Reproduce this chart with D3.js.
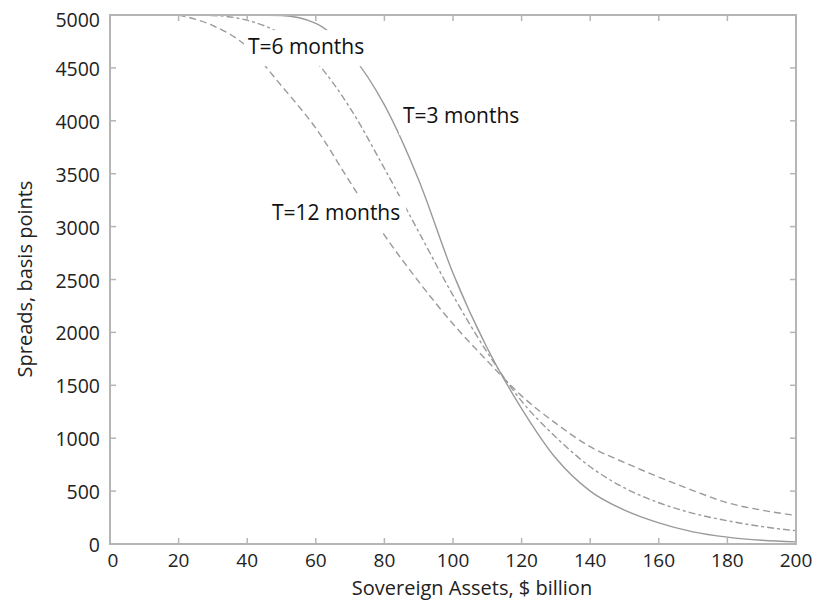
<!DOCTYPE html>
<html lang="en">
<head>
  <meta charset="UTF-8">
  <title>Spreads vs Sovereign Assets</title>
  <script src="https://d3js.org/d3.v7.min.js"></script>
  <style>
    body { margin: 0; background: #fff; }
    svg { display: block; font-family: "Open Sans", Lato, sans-serif; }
    .frame { fill: none; stroke: #b5b5b5; stroke-width: 2px; }
    .tick-mark { stroke: #b5b5b5; stroke-width: 1.5px; }
    .tick-label { font-size: 19.5px; fill: #222; }
    .x-tick { font-size: 19px; }
    .axis-title { font-size: 20px; fill: #222; }
    .curve { fill: none; stroke: #9a9a9a; stroke-width: 1.4px; }
    .curve-label { font-size: 21px; fill: #111; }
  </style>
</head>
<body>
  <svg id="chart" width="814" height="600"></svg>

  <script>
    // x values ($ billion)
    const assets = [20, 30, 40, 50, 60, 70, 80, 90, 100, 110, 120, 130, 140, 150, 160, 170, 180, 190, 200];
    // spreads, basis points
    const spreadT3 = [5000, 5000, 5000, 4995, 4920, 4640, 4150, 3440, 2560, 1850, 1280, 810, 500, 320, 200, 115, 65, 35, 20];
    const spreadT6 = [5000, 4995, 4950, 4820, 4560, 4120, 3550, 2950, 2350, 1810, 1350, 1010, 730, 530, 390, 290, 220, 165, 125];
    const spreadT12 = [5000, 4900, 4700, 4330, 3930, 3420, 2920, 2480, 2080, 1730, 1400, 1140, 920, 770, 633, 505, 390, 320, 270];

    const xTicks = [0, 20, 40, 60, 80, 100, 120, 140, 160, 180, 200];
    const yTicks = [0, 500, 1000, 1500, 2000, 2500, 3000, 3500, 4000, 4500, 5000];

    const series = [
      { name: 'T=3 months', values: spreadT3, dash: null },
      { name: 'T=6 months', values: spreadT6, dash: '7,3,3,3' },
      { name: 'T=12 months', values: spreadT12, dash: '7,4' }
    ];

    // label anchors in data units (left edge, baseline)
    const labels = [
      { text: 'T=6 months', x: 40.2, y: 4630 },
      { text: 'T=3 months', x: 85.4, y: 3980 },
      { text: 'T=12 months', x: 47.2, y: 3060 }
    ];

    const m = { left: 110, right: 796, top: 15, bottom: 544 };
    const svg = d3.select('#chart');

    const x = d3.scaleLinear().domain([0, 200]).range([m.left, m.right]);
    const y = d3.scaleLinear().domain([0, 5000]).range([m.bottom, m.top]);

    // curves
    const line = d3.line()
      .x((d, i) => x(assets[i]))
      .y(d => y(d))
      .curve(d3.curveMonotoneX);

    series.forEach(s => {
      svg.append('path')
        .attr('class', 'curve')
        .attr('d', line(s.values))
        .attr('stroke-dasharray', s.dash);
    });

    // frame
    svg.append('rect')
      .attr('class', 'frame')
      .attr('x', m.left).attr('y', m.top)
      .attr('width', m.right - m.left).attr('height', m.bottom - m.top);

    // ticks, pointing inward on all four sides
    const tl = 6;
    xTicks.forEach(t => {
      svg.append('line').attr('class', 'tick-mark')
        .attr('x1', x(t)).attr('x2', x(t)).attr('y1', m.bottom).attr('y2', m.bottom - tl);
      svg.append('line').attr('class', 'tick-mark')
        .attr('x1', x(t)).attr('x2', x(t)).attr('y1', m.top).attr('y2', m.top + tl);
      svg.append('text').attr('class', 'tick-label x-tick')
        .attr('x', t === 0 ? x(t) + 3 : x(t)).attr('y', m.bottom + 23)
        .attr('text-anchor', 'middle')
        .text(t);
    });
    yTicks.forEach(t => {
      svg.append('line').attr('class', 'tick-mark')
        .attr('x1', m.left).attr('x2', m.left + tl).attr('y1', y(t)).attr('y2', y(t));
      svg.append('line').attr('class', 'tick-mark')
        .attr('x1', m.right).attr('x2', m.right - tl).attr('y1', y(t)).attr('y2', y(t));
      svg.append('text').attr('class', 'tick-label')
        .attr('x', m.left - 10).attr('y', y(t) + (t === 5000 ? 12 : 8))
        .attr('text-anchor', 'end')
        .text(t);
    });

    // curve labels with white boxes behind them
    labels.forEach(l => {
      const g = svg.append('g');
      const txt = g.append('text').attr('class', 'curve-label')
        .attr('x', x(l.x)).attr('y', y(l.y))
        .text(l.text);
      const bb = txt.node().getBBox();
      g.insert('rect', 'text')
        .attr('x', bb.x - 4).attr('y', bb.y - 2)
        .attr('width', bb.width + 10).attr('height', bb.height + 8)
        .attr('fill', '#fff');
    });

    // axis titles
    svg.append('text').attr('class', 'axis-title')
      .attr('x', 472).attr('y', 595)
      .attr('text-anchor', 'middle')
      .text('Sovereign Assets, $ billion');

    svg.append('text').attr('class', 'axis-title')
      .attr('transform', 'translate(32,279) rotate(-90)')
      .attr('text-anchor', 'middle')
      .text('Spreads, basis points');
  </script>
</body>
</html>
